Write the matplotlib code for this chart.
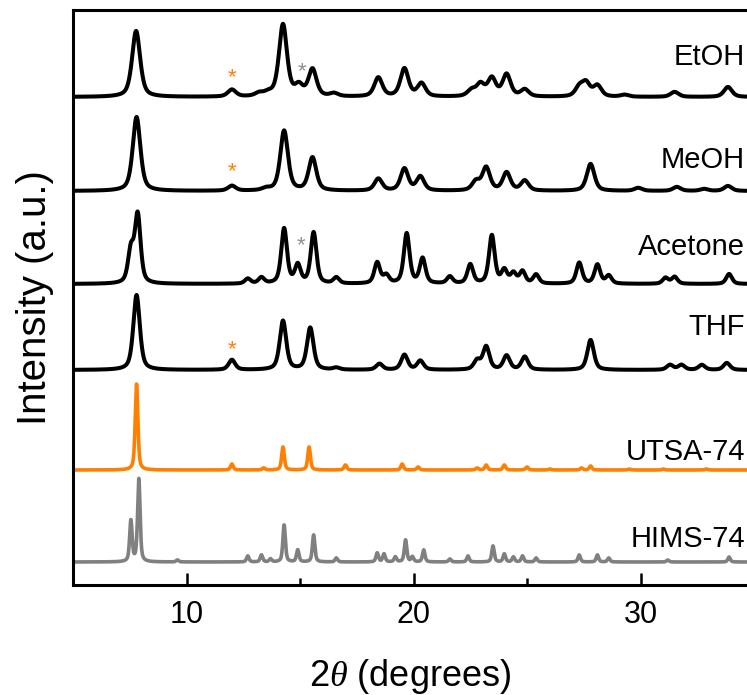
import numpy as np
import matplotlib
matplotlib.use("Agg")
import matplotlib.pyplot as plt

plt.rcParams['font.family'] = ['Liberation Sans', 'DejaVu Sans']
plt.rcParams['mathtext.fontset'] = 'custom'
plt.rcParams['mathtext.it'] = 'Liberation Serif:italic'

# Peak tables for each powder pattern: 2-theta position (deg) and peak height (a.u.)
etoh_pos = [7.78, 12.0, 13.2, 13.6, 14.25, 14.95, 15.55, 16.5, 18.45, 19.6, 20.35,
            22.55, 22.95, 23.45, 24.1, 24.9, 27.3, 27.6, 28.1, 29.3, 31.5, 33.85]
etoh_hgt = [66, 7, 3, 3, 72, 10, 27, 3, 19, 28, 13,
            6, 12, 18, 22, 7, 9, 13, 11, 2, 5, 10]

meoh_pos = [7.8, 12.0, 13.5, 14.3, 15.55, 18.45, 19.6, 20.3, 22.75, 23.2, 24.1,
            24.9, 27.8, 29.9, 31.6, 32.8, 33.85]
meoh_hgt = [74, 5, 2, 60, 33, 12, 22, 14, 9, 23, 18,
            10, 27, 3, 4, 2, 5]

acetone_pos = [7.55, 7.85, 12.7, 13.3, 14.3, 14.9, 15.6, 16.6, 18.4, 18.8, 19.7, 20.4,
               21.6, 22.5, 23.45, 24.0, 24.4, 24.8, 25.4, 27.3, 28.1, 28.6, 31.1, 31.5, 33.9]
acetone_hgt = [32, 68, 5, 6, 55, 18, 51, 6, 21, 8, 50, 25,
               7, 19, 48, 13, 10, 12, 9, 21, 19, 8, 6, 7, 10]

thf_pos = [7.8, 12.0, 14.25, 15.45, 16.6, 18.5, 19.6, 20.3, 22.8, 23.2, 24.1,
           24.9, 27.8, 31.3, 31.8, 32.7, 33.8]
thf_hgt = [75, 10, 49, 42, 2, 6, 15, 9, 9, 23, 14,
           13, 30, 5, 5, 5, 7]

utsa_pos = [7.8, 12.0, 13.4, 14.25, 15.4, 17.0, 19.5, 20.2, 22.8, 23.2, 24.0,
            25.0, 26.0, 27.4, 27.8, 29.5, 31.0, 32.9]
utsa_hgt = [86, 6, 2, 23, 23, 5, 6, 3, 2, 5, 5,
            3, 1, 2, 4, 1, 1, 1]

hims_pos = [7.55, 7.9, 9.6, 12.7, 13.3, 13.7, 14.3, 14.9, 15.6, 16.6, 18.4, 18.7,
            19.2, 19.65, 19.95, 20.45, 21.6, 22.4, 23.5, 24.0, 24.4, 24.8, 25.4,
            27.3, 28.1, 28.6, 31.2, 33.9]
hims_hgt = [41, 83, 2, 6, 7, 3, 37, 12, 27, 4, 9, 8,
            5, 22, 5, 12, 3, 6, 16, 8, 5, 6, 4,
            7, 7, 4, 2, 5]

labels = ['EtOH', 'MeOH', 'Acetone', 'THF', 'UTSA-74', 'HIMS-74']
offsets = [488, 394, 301, 215, 115, 23]
fwhm = [0.42, 0.40, 0.30, 0.34, 0.14, 0.13]
colors = ['black', 'black', 'black', 'black', '#FF8000', '#808080']
widths = [2.9, 2.9, 2.9, 2.9, 2.6, 2.6]
label_y = [520, 417, 330, 250, 125, 38]

tables = [(etoh_pos, etoh_hgt), (meoh_pos, meoh_hgt), (acetone_pos, acetone_hgt),
          (thf_pos, thf_hgt), (utsa_pos, utsa_hgt), (hims_pos, hims_hgt)]

# impurity markers: (2-theta, height, colour)
star_x = [12.0, 15.1, 12.0, 15.05, 12.0]
star_y = [507, 513, 413, 339, 235]
star_c = ['#FF8000', '#909090', '#FF8000', '#909090', '#FF8000']


def pattern(x, pos, hgt, w, eta=0.55):
    """Pseudo-Voigt sum of the tabulated reflections."""
    y = np.zeros_like(x)
    for p, h in zip(pos, hgt):
        d = (x - p) / (w / 2)
        y += h * (eta / (1 + d ** 2) + (1 - eta) * np.exp(-np.log(2) * d ** 2))
    return y


W, H = 747, 695
fig = plt.figure(figsize=(W / 100, H / 100), dpi=100)
ax = fig.add_axes([73 / W, (H - 585) / H, (W - 73) / W, 575 / H])

x = np.linspace(5, 34.69, 4000)
for (pos, hgt), off, w, c, lw in zip(tables, offsets, fwhm, colors, widths):
    ax.plot(x, off + pattern(x, pos, hgt, w), color=c, lw=lw,
            solid_joinstyle='round', solid_capstyle='butt')

for lab, ly in zip(labels, label_y):
    ax.text(0.997, ly, lab, fontsize=21, ha='right', va='baseline',
            transform=ax.get_yaxis_transform(), clip_on=False)

for sx, sy, sc in zip(star_x, star_y, star_c):
    ax.text(sx, sy, '*', fontsize=16, color=sc, ha='center', va='center')

ax.set_xlim(5, 34.69)
ax.set_ylim(0, 575)
ax.set_yticks([])
ax.set_xticks([10, 20, 30])
ax.set_xticks([15, 25], minor=True)
ax.tick_params(axis='x', which='major', direction='in', length=9, width=1.8,
               labelsize=22, pad=11, top=False)
ax.tick_params(axis='x', which='minor', direction='in', length=5, width=1.8, top=False)
for s in ['left', 'bottom', 'top']:
    ax.spines[s].set_linewidth(2.2)
ax.spines['right'].set_visible(False)

ax.set_xlabel(r'2$\it{\theta}$ (degrees)', fontsize=26, labelpad=19)
ax.set_ylabel('Intensity (a.u.)', fontsize=29, labelpad=14)

fig.savefig('out.png', dpi=100)
